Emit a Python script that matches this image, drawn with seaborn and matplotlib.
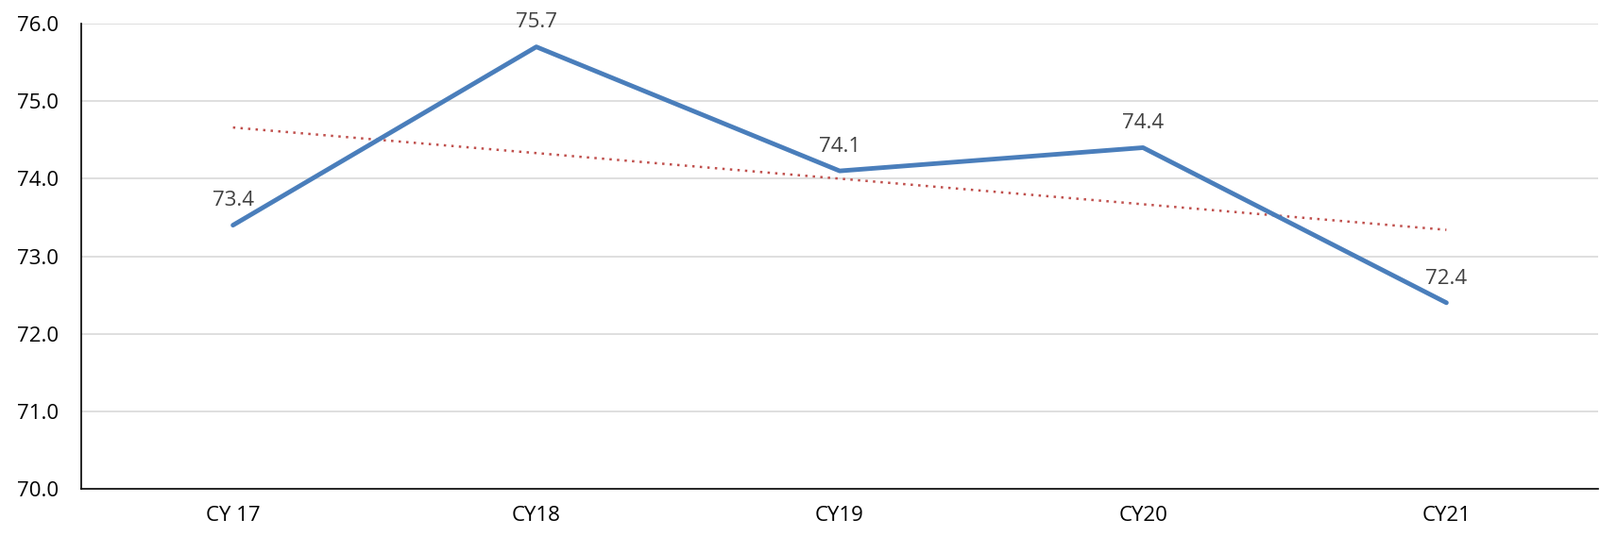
import matplotlib
matplotlib.use("Agg")
import matplotlib.pyplot as plt
import seaborn as sns
import numpy as np
import pandas as pd

categories = ["CY 17", "CY18", "CY19", "CY20", "CY21"]
values = [73.4, 75.7, 74.1, 74.4, 72.4]
yticks = [70.0, 71.0, 72.0, 73.0, 74.0, 75.0, 76.0]

sns.set_theme(style="white")
plt.rcParams['font.family'] = ['Open Sans', 'DejaVu Sans']

df = pd.DataFrame({"x": np.arange(len(categories)), "y": values})

fig = plt.figure(figsize=(16.94, 5.68), dpi=100)
ax = fig.add_axes([0.0508, 0.088, 0.948, 0.868])

for t in yticks[1:]:
    ax.axhline(t, color="#d9d9d9", lw=1.2, zorder=0)

sns.lineplot(data=df, x="x", y="y", ax=ax, color="#4a7ebb", lw=3.5, zorder=3)
sns.regplot(data=df, x="x", y="y", ax=ax, scatter=False, ci=None,
            line_kws=dict(color="#c0504d", lw=1.8, linestyle=(0, (1, 2.2))), truncate=True)

for i, v in enumerate(values):
    ax.annotate(f"{v:.1f}", (i, v), xytext=(0, 11), textcoords="offset points",
                ha="center", va="bottom", fontsize=16, color="#404040")

ax.set_xlim(-0.5, 4.5)
ax.set_ylim(70, 76)
ax.set_xticks(range(len(categories)))
ax.set_xticklabels(categories, fontsize=16, color="black")
ax.set_yticks(yticks)
ax.set_yticklabels([f"{t:.1f}" for t in yticks], fontsize=16, color="black")
ax.tick_params(axis="x", length=0, pad=13)
ax.tick_params(axis="y", length=0, pad=17)
ax.set_xlabel("")
ax.set_ylabel("")
for s in ["top", "right"]:
    ax.spines[s].set_visible(False)
for s in ["left", "bottom"]:
    ax.spines[s].set_color("black")
    ax.spines[s].set_linewidth(1.2)

fig.savefig("out.png", dpi=100)
